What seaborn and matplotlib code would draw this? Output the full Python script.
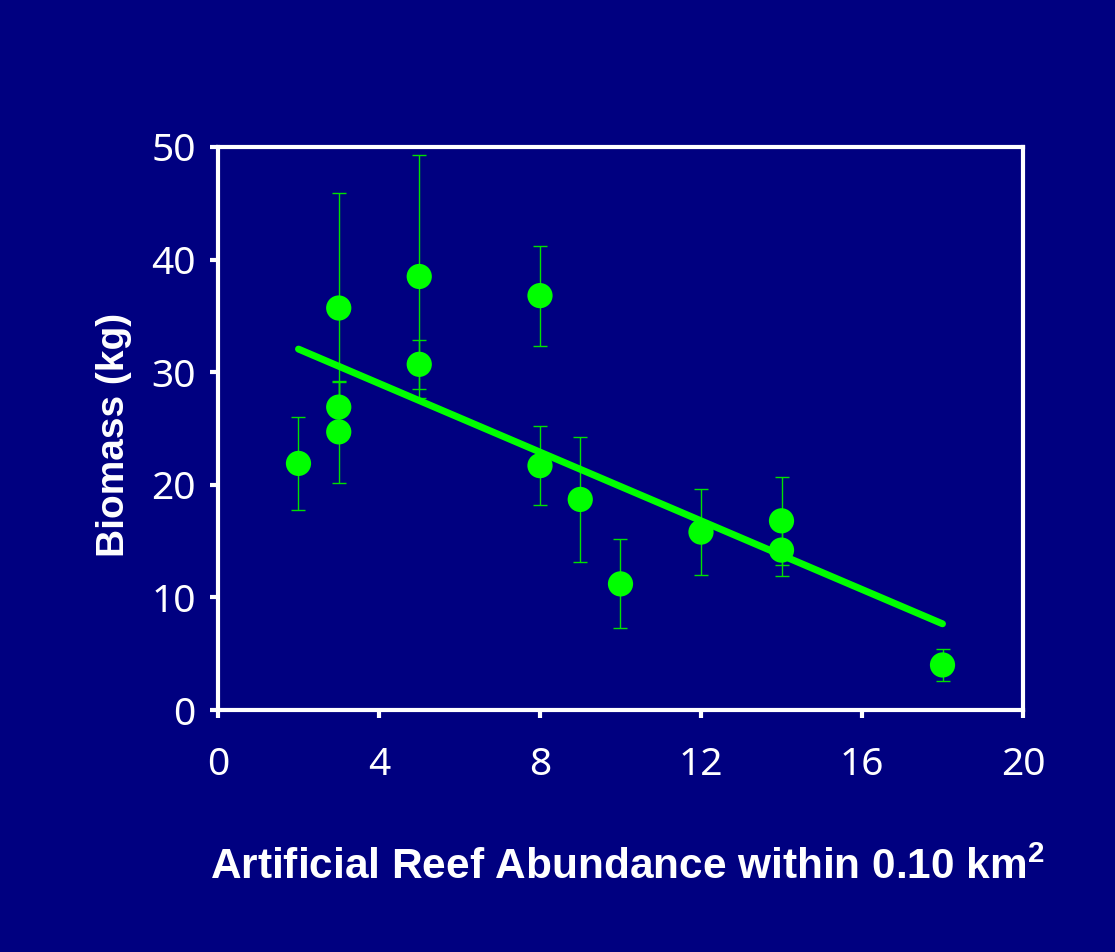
import matplotlib
matplotlib.use("Agg")
import matplotlib.pyplot as plt
import seaborn as sns
import pandas as pd

# Reef sites: number of artificial reefs within 0.10 km2, fish biomass and its error
reef_count = [2, 3, 3, 3, 5, 5, 8, 8, 9, 10, 12, 14, 14, 18]
biomass_kg = [21.9, 35.7, 26.9, 24.7, 38.5, 30.7, 36.8, 21.7, 18.7, 11.2, 15.8, 16.8, 14.2, 4.0]
biomass_err = [4.1, 10.2, 2.2, 4.5, 10.8, 2.2, 4.45, 3.5, 5.55, 3.95, 3.8, 3.9, 2.3, 1.4]

x_ticks = [0, 4, 8, 12, 16, 20]
y_ticks = [0, 10, 20, 30, 40, 50]

NAVY = "#000080"
GREEN = "#00ff00"

df = pd.DataFrame({"reefs": reef_count, "biomass": biomass_kg, "err": biomass_err})

sns.set_style("white")
plt.rcParams["font.family"] = ["Noto Sans", "DejaVu Sans"]
plt.rcParams["mathtext.fontset"] = "custom"
plt.rcParams["mathtext.rm"] = "Liberation Sans:bold"
plt.rcParams["mathtext.bf"] = "Liberation Sans:bold"

fig = plt.figure(figsize=(11.15, 9.52), dpi=100, facecolor=NAVY)
ax = fig.add_axes([0.1955, 0.2542, 0.722, 0.5914])
ax.set_facecolor(NAVY)

# error bars beneath the markers
ax.errorbar(df["reefs"], df["biomass"], yerr=df["err"], fmt="none",
            ecolor="#00e000", elinewidth=1.0, capsize=5, capthick=1.0, zorder=2)

sns.scatterplot(data=df, x="reefs", y="biomass", ax=ax, color=GREEN, s=330,
                edgecolor="none", zorder=4)

# least-squares fit over the observed range
sns.regplot(data=df, x="reefs", y="biomass", ax=ax, scatter=False, ci=None,
            truncate=True, color=GREEN,
            line_kws={"linewidth": 5, "solid_capstyle": "round", "zorder": 3})

ax.set_xlim(0, 20)
ax.set_ylim(0, 50)
ax.set_xticks(x_ticks)
ax.set_yticks(y_ticks)
ax.set_xticklabels([str(t) for t in x_ticks])
ax.set_yticklabels([str(t) for t in y_ticks])

for side in ["left", "right", "top", "bottom"]:
    ax.spines[side].set_visible(True)
    ax.spines[side].set_color("white")
    ax.spines[side].set_linewidth(3)

ax.tick_params(axis="both", which="major", direction="out", length=6, width=3,
               color="white", labelcolor="white", labelsize=28)
ax.tick_params(axis="x", bottom=True, top=False, pad=20)
ax.tick_params(axis="y", left=True, right=False, pad=10)

ax.set_xlabel(r"Artificial Reef Abundance within 0.10 km$^{\mathbf{2}}$",
              color="white", fontsize=30.5, fontweight="bold",
              family="Liberation Sans")
ax.set_ylabel("Biomass (kg)", color="white", fontsize=28, fontweight="bold",
              family="Liberation Sans")
ax.xaxis.set_label_coords(0.508, -0.245)
ax.yaxis.set_label_coords(-0.107, 0.488)

fig.savefig("out.png", dpi=100, facecolor=NAVY)
